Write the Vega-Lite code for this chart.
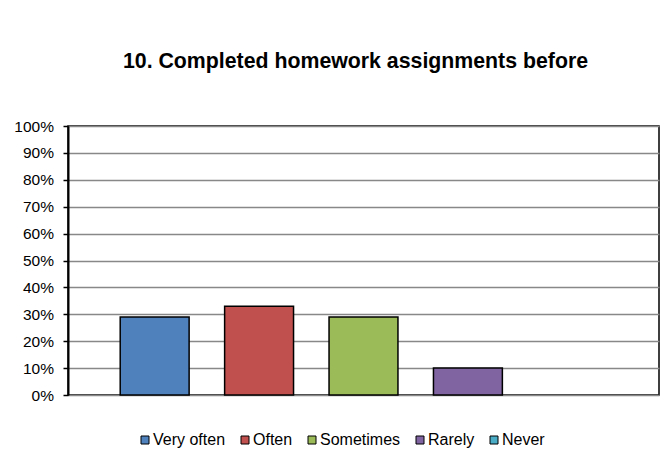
{
  "$schema": "https://vega.github.io/schema/vega-lite/v6.json",
  "width": 591,
  "height": 269,
  "autosize": {"type": "none"},
  "padding": {"left": 68, "top": 126, "right": 8, "bottom": 73},
  "background": "white",
  "title": {
    "text": "10. Completed homework assignments before",
    "font": "Liberation Sans",
    "fontSize": 21.3,
    "fontWeight": "bold",
    "color": "black",
    "anchor": "middle",
    "frame": "group",
    "dx": -8,
    "offset": 47
  },
  "data": {
    "values": [
      {"response": "Very often", "pct": 0.29},
      {"response": "Often", "pct": 0.33},
      {"response": "Sometimes", "pct": 0.29},
      {"response": "Rarely", "pct": 0.10},
      {"response": "Never", "pct": 0.0}
    ]
  },
  "mark": {"type": "bar", "stroke": "black", "strokeWidth": 1.5},
  "encoding": {
    "x": {
      "field": "response",
      "type": "nominal",
      "sort": ["Very often", "Often", "Sometimes", "Rarely", "Never"],
      "scale": {"paddingInner": 0.34, "paddingOuter": 0.5},
      "axis": null
    },
    "y": {
      "field": "pct",
      "type": "quantitative",
      "scale": {"domain": [0, 1], "nice": false},
      "axis": {
        "title": null,
        "format": ".0%",
        "values": [0, 0.1, 0.2, 0.3, 0.4, 0.5, 0.6, 0.7, 0.8, 0.9, 1.0],
        "labelFont": "Liberation Sans",
        "labelFontSize": 15.5,
        "labelColor": "black",
        "labelPadding": 9.5,
        "tickColor": "black",
        "tickSize": 5,
        "tickWidth": 1.5,
        "domainColor": "black",
        "domainWidth": 2,
        "grid": true,
        "gridColor": "#888888",
        "gridWidth": 1.5
      }
    },
    "strokeOpacity": {
      "condition": {"test": "datum.pct > 0", "value": 1},
      "value": 0
    },
    "color": {
      "field": "response",
      "type": "nominal",
      "sort": ["Very often", "Often", "Sometimes", "Rarely", "Never"],
      "scale": {
        "domain": ["Very often", "Often", "Sometimes", "Rarely", "Never"],
        "range": ["#4F81BD", "#C0504D", "#9BBB59", "#8064A2", "#4BACC6"]
      },
      "legend": {
        "title": null,
        "orient": "none",
        "direction": "horizontal",
        "legendX": 69,
        "legendY": 306,
        "symbolType": "square",
        "symbolSize": 64,
        "symbolStrokeColor": "black",
        "symbolStrokeWidth": 1,
        "symbolOpacity": 1,
        "labelFont": "Liberation Sans",
        "labelFontSize": 16,
        "labelColor": "black",
        "labelOffset": 0,
        "columnPadding": 11
      }
    }
  },
  "config": {
    "view": {"stroke": "black", "strokeWidth": 1.5}
  }
}
